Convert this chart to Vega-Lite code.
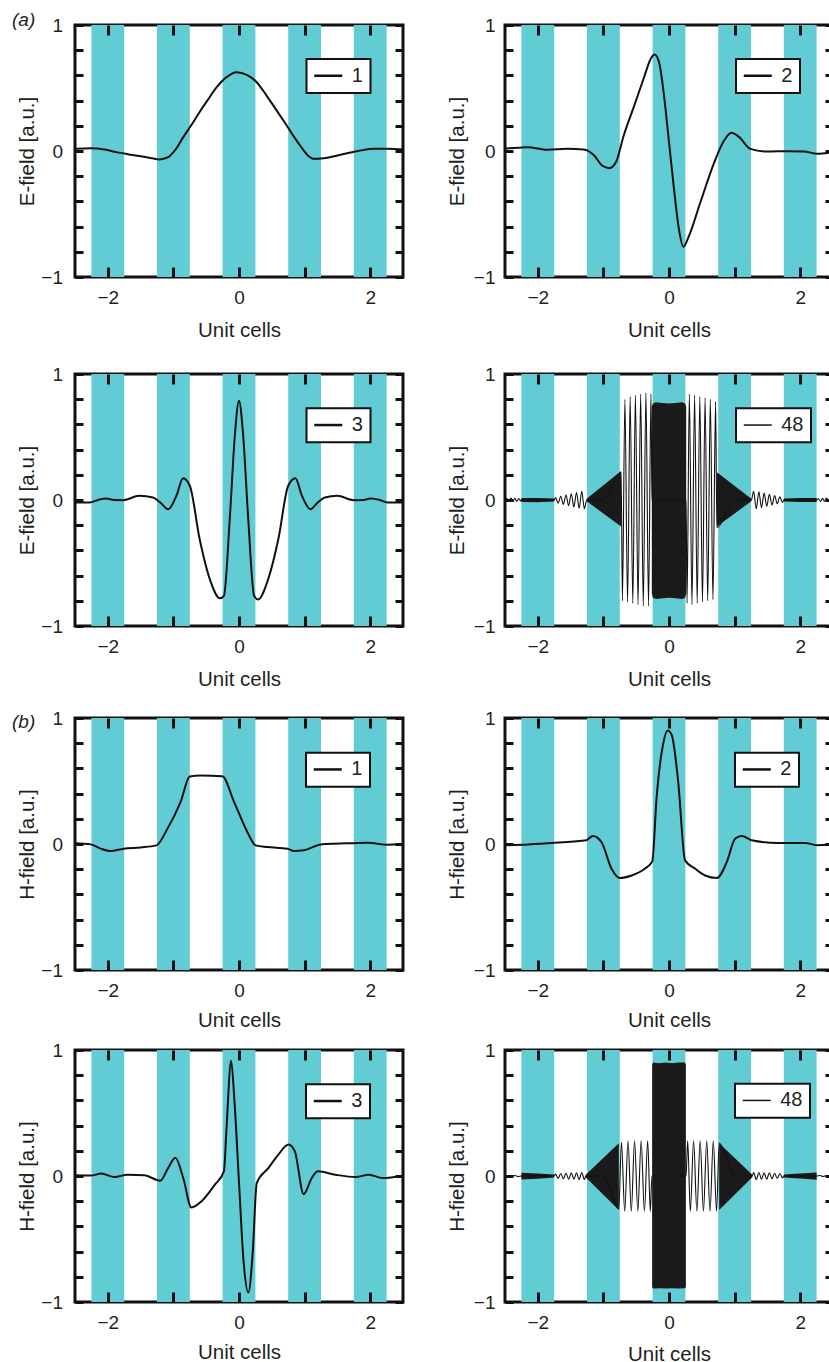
{
  "$schema": "https://vega.github.io/schema/vega-lite/v6.json",
  "autosize": {"type": "pad"},
  "padding": {"left": 10, "top": 9, "right": 0, "bottom": 0},
  "background": "white",
  "datasets": {
    "stripes": [
      {"a": -2.25, "b": -1.75, "y0": -1, "y1": 1}, {"a": -1.25, "b": -0.75, "y0": -1, "y1": 1}, {"a": -0.25, "b": 0.25, "y0": -1, "y1": 1}, {"a": 0.75, "b": 1.25, "y0": -1, "y1": 1}, {"a": 1.75, "b": 2.25, "y0": -1, "y1": 1}
    ],
    "curves": [
      {"p":"E1","x":-2.5,"y":0.017},{"p":"E1","x":-2.26,"y":0.022},{"p":"E1","x":-2.05,"y":0.012},{"p":"E1","x":-1.87,"y":-0.009},{"p":"E1","x":-1.7,"y":-0.025},{"p":"E1","x":-1.52,"y":-0.04},{"p":"E1","x":-1.35,"y":-0.055},{"p":"E1","x":-1.21,"y":-0.067},{"p":"E1","x":-1.08,"y":-0.049},{"p":"E1","x":-0.97,"y":0.01},{"p":"E1","x":-0.85,"y":0.11},{"p":"E1","x":-0.72,"y":0.21},{"p":"E1","x":-0.6,"y":0.31},{"p":"E1","x":-0.47,"y":0.41},{"p":"E1","x":-0.34,"y":0.506},{"p":"E1","x":-0.19,"y":0.586},{"p":"E1","x":-0.04,"y":0.625},{"p":"E1","x":0.12,"y":0.604},{"p":"E1","x":0.27,"y":0.546},{"p":"E1","x":0.42,"y":0.44},{"p":"E1","x":0.55,"y":0.34},{"p":"E1","x":0.68,"y":0.24},{"p":"E1","x":0.81,"y":0.135},{"p":"E1","x":0.93,"y":0.044},{"p":"E1","x":1.05,"y":-0.035},{"p":"E1","x":1.14,"y":-0.062},{"p":"E1","x":1.29,"y":-0.057},{"p":"E1","x":1.55,"y":-0.03},{"p":"E1","x":1.85,"y":0.004},{"p":"E1","x":2.06,"y":0.017},{"p":"E1","x":2.26,"y":0.017},{"p":"E1","x":2.5,"y":0.012},

      {"p":"E2","x":-2.5,"y":0.02},{"p":"E2","x":-2.3,"y":0.025},{"p":"E2","x":-2.16,"y":0.03},{"p":"E2","x":-1.85,"y":0.01},{"p":"E2","x":-1.55,"y":0.017},{"p":"E2","x":-1.3,"y":0.012},{"p":"E2","x":-1.14,"y":-0.036},{"p":"E2","x":-1.02,"y":-0.115},{"p":"E2","x":-0.91,"y":-0.136},{"p":"E2","x":-0.81,"y":-0.09},{"p":"E2","x":-0.69,"y":0.123},{"p":"E2","x":-0.53,"y":0.36},{"p":"E2","x":-0.38,"y":0.585},{"p":"E2","x":-0.28,"y":0.73},{"p":"E2","x":-0.22,"y":0.765},{"p":"E2","x":-0.15,"y":0.7},{"p":"E2","x":-0.076,"y":0.44},{"p":"E2","x":0,"y":0.07},{"p":"E2","x":0.076,"y":-0.3},{"p":"E2","x":0.15,"y":-0.617},{"p":"E2","x":0.22,"y":-0.76},{"p":"E2","x":0.3,"y":-0.68},{"p":"E2","x":0.48,"y":-0.405},{"p":"E2","x":0.69,"y":-0.09},{"p":"E2","x":0.84,"y":0.083},{"p":"E2","x":0.95,"y":0.144},{"p":"E2","x":1.07,"y":0.11},{"p":"E2","x":1.24,"y":0.017},{"p":"E2","x":1.5,"y":-0.004},{"p":"E2","x":1.8,"y":-0.001},{"p":"E2","x":2.06,"y":-0.004},{"p":"E2","x":2.26,"y":-0.022},{"p":"E2","x":2.5,"y":-0.01},

      {"p":"E3","x":-2.5,"y":-0.02},{"p":"E3","x":-2.28,"y":-0.02},{"p":"E3","x":-2.15,"y":0.0},{"p":"E3","x":-2.03,"y":0.012},{"p":"E3","x":-1.9,"y":0.0},{"p":"E3","x":-1.77,"y":-0.001},{"p":"E3","x":-1.52,"y":0.033},{"p":"E3","x":-1.31,"y":0.02},{"p":"E3","x":-1.2,"y":-0.02},{"p":"E3","x":-1.08,"y":-0.073},{"p":"E3","x":-0.955,"y":0.033},{"p":"E3","x":-0.853,"y":0.173},{"p":"E3","x":-0.75,"y":0.113},{"p":"E3","x":-0.6,"y":-0.31},{"p":"E3","x":-0.444,"y":-0.63},{"p":"E3","x":-0.29,"y":-0.78},{"p":"E3","x":-0.23,"y":-0.76},{"p":"E3","x":-0.138,"y":-0.126},{"p":"E3","x":-0.06,"y":0.536},{"p":"E3","x":0,"y":0.788},{"p":"E3","x":0.06,"y":0.536},{"p":"E3","x":0.138,"y":-0.126},{"p":"E3","x":0.23,"y":-0.76},{"p":"E3","x":0.29,"y":-0.79},{"p":"E3","x":0.444,"y":-0.63},{"p":"E3","x":0.6,"y":-0.31},{"p":"E3","x":0.75,"y":0.113},{"p":"E3","x":0.86,"y":0.173},{"p":"E3","x":0.96,"y":0.033},{"p":"E3","x":1.09,"y":-0.073},{"p":"E3","x":1.2,"y":-0.02},{"p":"E3","x":1.31,"y":0.02},{"p":"E3","x":1.5,"y":0.033},{"p":"E3","x":1.75,"y":-0.001},{"p":"E3","x":1.9,"y":0.0},{"p":"E3","x":2.0,"y":0.012},{"p":"E3","x":2.15,"y":0.0},{"p":"E3","x":2.26,"y":-0.02},{"p":"E3","x":2.5,"y":-0.02},

      {"p":"H1","x":-2.5,"y":0.005},{"p":"H1","x":-2.26,"y":-0.003},{"p":"H1","x":-2.11,"y":-0.037},{"p":"H1","x":-1.96,"y":-0.056},{"p":"H1","x":-1.76,"y":-0.037},{"p":"H1","x":-1.5,"y":-0.027},{"p":"H1","x":-1.26,"y":-0.011},{"p":"H1","x":-1.09,"y":0.122},{"p":"H1","x":-0.89,"y":0.335},{"p":"H1","x":-0.75,"y":0.535},{"p":"H1","x":-0.585,"y":0.543},{"p":"H1","x":-0.254,"y":0.537},{"p":"H1","x":-0.076,"y":0.335},{"p":"H1","x":0.127,"y":0.096},{"p":"H1","x":0.254,"y":-0.011},{"p":"H1","x":0.43,"y":-0.024},{"p":"H1","x":0.74,"y":-0.037},{"p":"H1","x":0.84,"y":-0.056},{"p":"H1","x":0.99,"y":-0.05},{"p":"H1","x":1.25,"y":-0.003},{"p":"H1","x":1.65,"y":0.005},{"p":"H1","x":1.96,"y":0.01},{"p":"H1","x":2.26,"y":-0.005},{"p":"H1","x":2.5,"y":0.0},

      {"p":"H2","x":-2.5,"y":-0.01},{"p":"H2","x":-2.15,"y":-0.003},{"p":"H2","x":-1.74,"y":0.01},{"p":"H2","x":-1.26,"y":0.03},{"p":"H2","x":-1.16,"y":0.064},{"p":"H2","x":-1.03,"y":0.016},{"p":"H2","x":-0.876,"y":-0.197},{"p":"H2","x":-0.75,"y":-0.27},{"p":"H2","x":-0.57,"y":-0.25},{"p":"H2","x":-0.37,"y":-0.197},{"p":"H2","x":-0.255,"y":-0.138},{"p":"H2","x":-0.19,"y":0.36},{"p":"H2","x":-0.087,"y":0.8},{"p":"H2","x":-0.02,"y":0.9},{"p":"H2","x":0.04,"y":0.867},{"p":"H2","x":0.14,"y":0.495},{"p":"H2","x":0.245,"y":-0.13},{"p":"H2","x":0.4,"y":-0.197},{"p":"H2","x":0.55,"y":-0.25},{"p":"H2","x":0.73,"y":-0.27},{"p":"H2","x":0.88,"y":-0.144},{"p":"H2","x":1.01,"y":0.043},{"p":"H2","x":1.11,"y":0.064},{"p":"H2","x":1.26,"y":0.03},{"p":"H2","x":1.67,"y":0.008},{"p":"H2","x":2.08,"y":0.008},{"p":"H2","x":2.26,"y":-0.01},{"p":"H2","x":2.5,"y":-0.005},

      {"p":"H3","x":-2.5,"y":0.005},{"p":"H3","x":-2.26,"y":0.003},{"p":"H3","x":-2.1,"y":0.019},{"p":"H3","x":-1.9,"y":-0.008},{"p":"H3","x":-1.7,"y":0.01},{"p":"H3","x":-1.44,"y":0.005},{"p":"H3","x":-1.2,"y":-0.037},{"p":"H3","x":-1.08,"y":0.064},{"p":"H3","x":-0.97,"y":0.144},{"p":"H3","x":-0.85,"y":-0.016},{"p":"H3","x":-0.725,"y":-0.25},{"p":"H3","x":-0.57,"y":-0.2},{"p":"H3","x":-0.37,"y":-0.07},{"p":"H3","x":-0.23,"y":0.037},{"p":"H3","x":-0.19,"y":0.38},{"p":"H3","x":-0.12,"y":0.915},{"p":"H3","x":-0.07,"y":0.6},{"p":"H3","x":0.0,"y":-0.05},{"p":"H3","x":0.07,"y":-0.68},{"p":"H3","x":0.143,"y":-0.925},{"p":"H3","x":0.21,"y":-0.6},{"p":"H3","x":0.27,"y":-0.056},{"p":"H3","x":0.45,"y":0.064},{"p":"H3","x":0.6,"y":0.17},{"p":"H3","x":0.756,"y":0.25},{"p":"H3","x":0.85,"y":0.197},{"p":"H3","x":0.986,"y":-0.144},{"p":"H3","x":1.11,"y":-0.016},{"p":"H3","x":1.2,"y":0.037},{"p":"H3","x":1.47,"y":0.01},{"p":"H3","x":1.78,"y":-0.008},{"p":"H3","x":1.98,"y":0.01},{"p":"H3","x":2.19,"y":-0.016},{"p":"H3","x":2.5,"y":0.003},

      {"p":"E48","x":-2.5,"y":0},{"p":"E48","x":-2.47,"y":0.012},{"p":"E48","x":-2.44,"y":-0.01},{"p":"E48","x":-2.41,"y":0.015},{"p":"E48","x":-2.38,"y":-0.012},{"p":"E48","x":-2.35,"y":0.014},{"p":"E48","x":-2.32,"y":-0.01},{"p":"E48","x":-2.29,"y":0.012},{"p":"E48","x":-2.26,"y":-0.008},{"p":"E48","x":-2.25,"y":0},{"p":"E48","x":-2.0,"y":0},
      {"p":"E48","x":-1.75,"y":0},{"p":"E48","x":-1.73,"y":0.02},{"p":"E48","x":-1.69,"y":-0.025},{"p":"E48","x":-1.65,"y":0.03},{"p":"E48","x":-1.61,"y":-0.035},{"p":"E48","x":-1.57,"y":0.04},{"p":"E48","x":-1.53,"y":-0.045},{"p":"E48","x":-1.49,"y":0.05},{"p":"E48","x":-1.45,"y":-0.055},{"p":"E48","x":-1.41,"y":0.06},{"p":"E48","x":-1.37,"y":-0.065},{"p":"E48","x":-1.33,"y":0.07},{"p":"E48","x":-1.29,"y":-0.07},{"p":"E48","x":-1.255,"y":0},{"p":"E48","x":-1.0,"y":0},
      {"p":"E48","x":-0.73,"y":0.22},{"p":"E48","x":-0.71,"y":-0.8},{"p":"E48","x":-0.672,"y":0.8},{"p":"E48","x":-0.632,"y":-0.81},{"p":"E48","x":-0.592,"y":0.82},{"p":"E48","x":-0.552,"y":-0.82},{"p":"E48","x":-0.512,"y":0.83},{"p":"E48","x":-0.472,"y":-0.83},{"p":"E48","x":-0.432,"y":0.84},{"p":"E48","x":-0.392,"y":-0.84},{"p":"E48","x":-0.352,"y":0.85},{"p":"E48","x":-0.312,"y":-0.84},{"p":"E48","x":-0.275,"y":0.84},{"p":"E48","x":-0.26,"y":0},{"p":"E48","x":0,"y":0},
      {"p":"E48","x":0.26,"y":0},{"p":"E48","x":0.275,"y":-0.82},{"p":"E48","x":0.31,"y":0.84},{"p":"E48","x":0.35,"y":-0.83},{"p":"E48","x":0.39,"y":0.83},{"p":"E48","x":0.43,"y":-0.82},{"p":"E48","x":0.47,"y":0.82},{"p":"E48","x":0.51,"y":-0.81},{"p":"E48","x":0.55,"y":0.81},{"p":"E48","x":0.59,"y":-0.8},{"p":"E48","x":0.63,"y":0.8},{"p":"E48","x":0.67,"y":-0.79},{"p":"E48","x":0.71,"y":0.78},{"p":"E48","x":0.73,"y":-0.22},{"p":"E48","x":1.0,"y":0},
      {"p":"E48","x":1.255,"y":0},{"p":"E48","x":1.29,"y":0.07},{"p":"E48","x":1.33,"y":-0.07},{"p":"E48","x":1.37,"y":0.065},{"p":"E48","x":1.41,"y":-0.06},{"p":"E48","x":1.45,"y":0.055},{"p":"E48","x":1.49,"y":-0.05},{"p":"E48","x":1.53,"y":0.045},{"p":"E48","x":1.57,"y":-0.04},{"p":"E48","x":1.61,"y":0.035},{"p":"E48","x":1.65,"y":-0.03},{"p":"E48","x":1.69,"y":0.025},{"p":"E48","x":1.73,"y":-0.02},{"p":"E48","x":1.75,"y":0},{"p":"E48","x":2.0,"y":0},
      {"p":"E48","x":2.25,"y":0},{"p":"E48","x":2.28,"y":0.01},{"p":"E48","x":2.31,"y":-0.012},{"p":"E48","x":2.34,"y":0.014},{"p":"E48","x":2.37,"y":-0.01},{"p":"E48","x":2.4,"y":0.015},{"p":"E48","x":2.43,"y":-0.012},{"p":"E48","x":2.46,"y":0.01},{"p":"E48","x":2.5,"y":0},

      {"p":"H48","x":-2.5,"y":0},{"p":"H48","x":-2.45,"y":0.004},{"p":"H48","x":-2.4,"y":-0.004},{"p":"H48","x":-2.35,"y":0.004},{"p":"H48","x":-2.3,"y":-0.004},{"p":"H48","x":-2.25,"y":0},{"p":"H48","x":-2.0,"y":0},
      {"p":"H48","x":-1.75,"y":0},{"p":"H48","x":-1.73,"y":0.015},{"p":"H48","x":-1.69,"y":-0.02},{"p":"H48","x":-1.65,"y":0.02},{"p":"H48","x":-1.61,"y":-0.022},{"p":"H48","x":-1.57,"y":0.022},{"p":"H48","x":-1.53,"y":-0.025},{"p":"H48","x":-1.49,"y":0.025},{"p":"H48","x":-1.45,"y":-0.025},{"p":"H48","x":-1.41,"y":0.025},{"p":"H48","x":-1.37,"y":-0.028},{"p":"H48","x":-1.33,"y":0.028},{"p":"H48","x":-1.29,"y":-0.028},{"p":"H48","x":-1.27,"y":0},{"p":"H48","x":-1.0,"y":0},
      {"p":"H48","x":-0.765,"y":-0.26},{"p":"H48","x":-0.725,"y":0.27},{"p":"H48","x":-0.675,"y":-0.28},{"p":"H48","x":-0.625,"y":0.28},{"p":"H48","x":-0.575,"y":-0.28},{"p":"H48","x":-0.525,"y":0.28},{"p":"H48","x":-0.475,"y":-0.28},{"p":"H48","x":-0.425,"y":0.28},{"p":"H48","x":-0.375,"y":-0.28},{"p":"H48","x":-0.325,"y":0.28},{"p":"H48","x":-0.285,"y":-0.28},{"p":"H48","x":-0.26,"y":0},{"p":"H48","x":0,"y":0},
      {"p":"H48","x":0.26,"y":0},{"p":"H48","x":0.285,"y":0.28},{"p":"H48","x":0.325,"y":-0.28},{"p":"H48","x":0.375,"y":0.28},{"p":"H48","x":0.425,"y":-0.28},{"p":"H48","x":0.475,"y":0.28},{"p":"H48","x":0.525,"y":-0.28},{"p":"H48","x":0.575,"y":0.28},{"p":"H48","x":0.625,"y":-0.28},{"p":"H48","x":0.675,"y":0.28},{"p":"H48","x":0.725,"y":-0.28},{"p":"H48","x":0.765,"y":0.26},{"p":"H48","x":1.0,"y":0},
      {"p":"H48","x":1.27,"y":0},{"p":"H48","x":1.29,"y":0.028},{"p":"H48","x":1.33,"y":-0.028},{"p":"H48","x":1.37,"y":0.028},{"p":"H48","x":1.41,"y":-0.025},{"p":"H48","x":1.45,"y":0.025},{"p":"H48","x":1.49,"y":-0.025},{"p":"H48","x":1.53,"y":0.025},{"p":"H48","x":1.57,"y":-0.022},{"p":"H48","x":1.61,"y":0.022},{"p":"H48","x":1.65,"y":-0.02},{"p":"H48","x":1.69,"y":0.02},{"p":"H48","x":1.73,"y":-0.015},{"p":"H48","x":1.75,"y":0},{"p":"H48","x":2.0,"y":0},
      {"p":"H48","x":2.25,"y":0},{"p":"H48","x":2.3,"y":0.004},{"p":"H48","x":2.35,"y":-0.004},{"p":"H48","x":2.4,"y":0.004},{"p":"H48","x":2.45,"y":-0.004},{"p":"H48","x":2.5,"y":0}
    ],
    "env": [
      {"p":"E48","s":"b1","x":-2.25,"lo":-0.015,"hi":0.015},{"p":"E48","s":"b1","x":-2.0,"lo":-0.018,"hi":0.015},{"p":"E48","s":"b1","x":-1.75,"lo":-0.012,"hi":0.012},
      {"p":"E48","s":"t1","x":-1.255,"lo":-0.01,"hi":0.01},{"p":"E48","s":"t1","x":-0.73,"lo":-0.21,"hi":0.23},
      {"p":"E48","s":"k","x":-0.262,"lo":-0.74,"hi":0.74},{"p":"E48","s":"k","x":-0.245,"lo":-0.775,"hi":0.765},{"p":"E48","s":"k","x":-0.2,"lo":-0.785,"hi":0.775},{"p":"E48","s":"k","x":-0.1,"lo":-0.78,"hi":0.77},{"p":"E48","s":"k","x":0,"lo":-0.775,"hi":0.765},{"p":"E48","s":"k","x":0.1,"lo":-0.78,"hi":0.77},{"p":"E48","s":"k","x":0.2,"lo":-0.785,"hi":0.775},{"p":"E48","s":"k","x":0.245,"lo":-0.775,"hi":0.765},{"p":"E48","s":"k","x":0.262,"lo":-0.74,"hi":0.74},
      {"p":"E48","s":"t2","x":0.73,"lo":-0.21,"hi":0.22},{"p":"E48","s":"t2","x":1.255,"lo":-0.01,"hi":0.01},
      {"p":"E48","s":"b2","x":1.75,"lo":-0.012,"hi":0.012},{"p":"E48","s":"b2","x":2.0,"lo":-0.015,"hi":0.015},{"p":"E48","s":"b2","x":2.25,"lo":-0.015,"hi":0.015},

      {"p":"H48","s":"b1","x":-2.25,"lo":-0.028,"hi":0.025},{"p":"H48","s":"b1","x":-2.0,"lo":-0.022,"hi":0.02},{"p":"H48","s":"b1","x":-1.75,"lo":-0.012,"hi":0.012},
      {"p":"H48","s":"t1","x":-1.27,"lo":-0.01,"hi":0.01},{"p":"H48","s":"t1","x":-0.765,"lo":-0.27,"hi":0.26},
      {"p":"H48","s":"k","x":-0.257,"lo":-0.88,"hi":0.88},{"p":"H48","s":"k","x":-0.245,"lo":-0.893,"hi":0.9},{"p":"H48","s":"k","x":-0.15,"lo":-0.89,"hi":0.895},{"p":"H48","s":"k","x":-0.05,"lo":-0.893,"hi":0.9},{"p":"H48","s":"k","x":0.05,"lo":-0.89,"hi":0.895},{"p":"H48","s":"k","x":0.15,"lo":-0.893,"hi":0.9},{"p":"H48","s":"k","x":0.245,"lo":-0.89,"hi":0.9},{"p":"H48","s":"k","x":0.257,"lo":-0.88,"hi":0.88},
      {"p":"H48","s":"t2","x":0.765,"lo":-0.27,"hi":0.26},{"p":"H48","s":"t2","x":1.27,"lo":-0.01,"hi":0.01},
      {"p":"H48","s":"b2","x":1.75,"lo":-0.012,"hi":0.012},{"p":"H48","s":"b2","x":2.0,"lo":-0.02,"hi":0.02},{"p":"H48","s":"b2","x":2.25,"lo":-0.03,"hi":0.028}
    ]
  },
  "columns": 2,
  "spacing": {"row": 0, "column": 102},
  "bounds": "flush",
  "resolve": {"scale": {"color": "independent"}, "legend": {"color": "independent"}},
  "concat": [
    {
      "width": 328, "height": 252,
      "title": {"text": "(a)", "anchor": "start", "frame": "group", "orient": "top", "offset": 0, "dx": -63, "dy": 29, "baseline": "alphabetic", "fontSize": 19, "fontStyle": "italic", "fontWeight": "normal", "color": "#231f20"},
      "layer": [
        {"data": {"name": "stripes"}, "mark": {"type": "rect", "color": "#62ccd4"},
         "encoding": {
           "x": {"field": "a", "type": "quantitative", "scale": {"domain": [-2.5, 2.5], "nice": false, "zero": false}, "axis": {"orient": "top", "zindex": 1, "values": [-2, -1, 0, 1, 2], "labels": false, "tickSize": -10, "title": null}},
           "x2": {"field": "b"},
           "y": {"field": "y0", "type": "quantitative", "scale": {"domain": [-1, 1], "nice": false, "zero": false}, "axis": {"orient": "right", "zindex": 1, "values": [-1, -0.8, -0.6, -0.4, -0.2, 0, 0.2, 0.4, 0.6, 0.8, 1], "tickMinStep": 0.1, "tickCount": 30, "labels": false, "tickSize": -8, "title": null}},
           "y2": {"field": "y1"}}},
        {"data": {"name": "curves"}, "transform": [{"filter": "datum.p == 'E1'"}],
         "mark": {"type": "line", "interpolate": "monotone", "strokeWidth": 2, "clip": true},
         "encoding": {
           "x": {"field": "x", "type": "quantitative", "axis": {"orient": "bottom", "zindex": 1, "values": [-2, -1, 0, 1, 2], "format": "d", "labelExpr": "datum.value % 2 == 0 ? datum.label : ''", "tickSize": -10, "labelPadding": 21, "title": "Unit cells", "titleY": 59, "titleBaseline": "alphabetic"}},
           "y": {"field": "y", "type": "quantitative", "axis": {"orient": "left", "zindex": 1, "values": [-1, -0.8, -0.6, -0.4, -0.2, 0, 0.2, 0.4, 0.6, 0.8, 1], "tickMinStep": 0.1, "tickCount": 30, "labelExpr": "datum.value > 0.99 ? '1' : datum.value < -0.99 ? '\u22121' : abs(datum.value) < 0.01 ? '0' : ''", "labelOverlap": false, "tickSize": -8, "labelPadding": 20.5, "title": "E-field [a.u.]", "titleX": -42, "titleY": 126, "titleBaseline": "alphabetic", "titleAngle": -90}},
           "color": {"datum": "1", "type": "nominal", "scale": {"range": ["#111111"]},
                     "legend": {"orient": "none", "legendX": 231.5, "legendY": 34, "title": null, "symbolType": "M-2,0H2", "symbolSize": 196, "symbolStrokeWidth": 2.5, "symbolOffset": 5, "labelFontSize": 20, "labelOffset": 13.5, "labelColor": "#231f20", "padding": 6.75, "strokeColor": "#111111", "fillColor": "white"}}}}
      ]
    },
    {
      "width": 328, "height": 252,
      "layer": [
        {"data": {"name": "stripes"}, "mark": {"type": "rect", "color": "#62ccd4"},
         "encoding": {
           "x": {"field": "a", "type": "quantitative", "scale": {"domain": [-2.5, 2.5], "nice": false, "zero": false}, "axis": {"orient": "top", "zindex": 1, "values": [-2, -1, 0, 1, 2], "labels": false, "tickSize": -10, "title": null}},
           "x2": {"field": "b"},
           "y": {"field": "y0", "type": "quantitative", "scale": {"domain": [-1, 1], "nice": false, "zero": false}, "axis": {"orient": "right", "zindex": 1, "values": [-1, -0.8, -0.6, -0.4, -0.2, 0, 0.2, 0.4, 0.6, 0.8, 1], "tickMinStep": 0.1, "tickCount": 30, "labels": false, "tickSize": -8, "title": null}},
           "y2": {"field": "y1"}}},
        {"data": {"name": "curves"}, "transform": [{"filter": "datum.p == 'E2'"}],
         "mark": {"type": "line", "interpolate": "monotone", "strokeWidth": 2, "clip": true},
         "encoding": {
           "x": {"field": "x", "type": "quantitative", "axis": {"orient": "bottom", "zindex": 1, "values": [-2, -1, 0, 1, 2], "format": "d", "labelExpr": "datum.value % 2 == 0 ? datum.label : ''", "tickSize": -10, "labelPadding": 21, "title": "Unit cells", "titleY": 59, "titleBaseline": "alphabetic"}},
           "y": {"field": "y", "type": "quantitative", "axis": {"orient": "left", "zindex": 1, "values": [-1, -0.8, -0.6, -0.4, -0.2, 0, 0.2, 0.4, 0.6, 0.8, 1], "tickMinStep": 0.1, "tickCount": 30, "labelExpr": "datum.value > 0.99 ? '1' : datum.value < -0.99 ? '\u22121' : abs(datum.value) < 0.01 ? '0' : ''", "labelOverlap": false, "tickSize": -8, "labelPadding": 18, "title": "E-field [a.u.]", "titleX": -42, "titleY": 126, "titleBaseline": "alphabetic", "titleAngle": -90}},
           "color": {"datum": "2", "type": "nominal", "scale": {"range": ["#111111"]},
                     "legend": {"orient": "none", "legendX": 231, "legendY": 34, "title": null, "symbolType": "M-2,0H2", "symbolSize": 196, "symbolStrokeWidth": 2.5, "symbolOffset": 5, "labelFontSize": 20, "labelOffset": 13.5, "labelColor": "#231f20", "padding": 6.75, "strokeColor": "#111111", "fillColor": "white"}}}}
      ]
    },
    {"width": 328, "height": 97, "data": {"values": []}, "mark": "point", "view": {"stroke": null}},
    {"width": 328, "height": 97, "data": {"values": []}, "mark": "point", "view": {"stroke": null}},
    {
      "width": 328, "height": 252,
      "layer": [
        {"data": {"name": "stripes"}, "mark": {"type": "rect", "color": "#62ccd4"},
         "encoding": {
           "x": {"field": "a", "type": "quantitative", "scale": {"domain": [-2.5, 2.5], "nice": false, "zero": false}, "axis": {"orient": "top", "zindex": 1, "values": [-2, -1, 0, 1, 2], "labels": false, "tickSize": -10, "title": null}},
           "x2": {"field": "b"},
           "y": {"field": "y0", "type": "quantitative", "scale": {"domain": [-1, 1], "nice": false, "zero": false}, "axis": {"orient": "right", "zindex": 1, "values": [-1, -0.8, -0.6, -0.4, -0.2, 0, 0.2, 0.4, 0.6, 0.8, 1], "tickMinStep": 0.1, "tickCount": 30, "labels": false, "tickSize": -8, "title": null}},
           "y2": {"field": "y1"}}},
        {"data": {"name": "curves"}, "transform": [{"filter": "datum.p == 'E3'"}],
         "mark": {"type": "line", "interpolate": "monotone", "strokeWidth": 2, "clip": true},
         "encoding": {
           "x": {"field": "x", "type": "quantitative", "axis": {"orient": "bottom", "zindex": 1, "values": [-2, -1, 0, 1, 2], "format": "d", "labelExpr": "datum.value % 2 == 0 ? datum.label : ''", "tickSize": -10, "labelPadding": 21, "title": "Unit cells", "titleY": 59, "titleBaseline": "alphabetic"}},
           "y": {"field": "y", "type": "quantitative", "axis": {"orient": "left", "zindex": 1, "values": [-1, -0.8, -0.6, -0.4, -0.2, 0, 0.2, 0.4, 0.6, 0.8, 1], "tickMinStep": 0.1, "tickCount": 30, "labelExpr": "datum.value > 0.99 ? '1' : datum.value < -0.99 ? '\u22121' : abs(datum.value) < 0.01 ? '0' : ''", "labelOverlap": false, "tickSize": -8, "labelPadding": 20.5, "title": "E-field [a.u.]", "titleX": -42, "titleY": 126, "titleBaseline": "alphabetic", "titleAngle": -90}},
           "color": {"datum": "3", "type": "nominal", "scale": {"range": ["#111111"]},
                     "legend": {"orient": "none", "legendX": 231.5, "legendY": 34.3, "title": null, "symbolType": "M-2,0H2", "symbolSize": 196, "symbolStrokeWidth": 2.5, "symbolOffset": 5, "labelFontSize": 20, "labelOffset": 13.5, "labelColor": "#231f20", "padding": 6.75, "strokeColor": "#111111", "fillColor": "white"}}}}
      ]
    },
    {
      "width": 328, "height": 252,
      "layer": [
        {"data": {"name": "stripes"}, "mark": {"type": "rect", "color": "#62ccd4"},
         "encoding": {
           "x": {"field": "a", "type": "quantitative", "scale": {"domain": [-2.5, 2.5], "nice": false, "zero": false}, "axis": {"orient": "top", "zindex": 1, "values": [-2, -1, 0, 1, 2], "labels": false, "tickSize": -10, "title": null}},
           "x2": {"field": "b"},
           "y": {"field": "y0", "type": "quantitative", "scale": {"domain": [-1, 1], "nice": false, "zero": false}, "axis": {"orient": "right", "zindex": 1, "values": [-1, -0.8, -0.6, -0.4, -0.2, 0, 0.2, 0.4, 0.6, 0.8, 1], "tickMinStep": 0.1, "tickCount": 30, "labels": false, "tickSize": -8, "title": null}},
           "y2": {"field": "y1"}}},
        {"data": {"name": "env"}, "transform": [{"filter": "datum.p == 'E48'"}],
         "mark": {"type": "area", "color": "#1a1a1a", "clip": true},
         "encoding": {
           "x": {"field": "x", "type": "quantitative", "axis": null},
           "y": {"field": "lo", "type": "quantitative", "axis": null},
           "y2": {"field": "hi"},
           "detail": {"field": "s"}}},
        {"data": {"name": "curves"}, "transform": [{"filter": "datum.p == 'E48'"}],
         "mark": {"type": "line", "interpolate": "monotone", "strokeWidth": 1.1, "clip": true},
         "encoding": {
           "x": {"field": "x", "type": "quantitative", "axis": {"orient": "bottom", "zindex": 1, "values": [-2, -1, 0, 1, 2], "format": "d", "labelExpr": "datum.value % 2 == 0 ? datum.label : ''", "tickSize": -10, "labelPadding": 21, "title": "Unit cells", "titleY": 59, "titleBaseline": "alphabetic"}},
           "y": {"field": "y", "type": "quantitative", "axis": {"orient": "left", "zindex": 1, "values": [-1, -0.8, -0.6, -0.4, -0.2, 0, 0.2, 0.4, 0.6, 0.8, 1], "tickMinStep": 0.1, "tickCount": 30, "labelExpr": "datum.value > 0.99 ? '1' : datum.value < -0.99 ? '\u22121' : abs(datum.value) < 0.01 ? '0' : ''", "labelOverlap": false, "tickSize": -8, "labelPadding": 18, "title": "E-field [a.u.]", "titleX": -42, "titleY": 126, "titleBaseline": "alphabetic", "titleAngle": -90}},
           "color": {"datum": "48", "type": "nominal", "scale": {"range": ["#111111"]},
                     "legend": {"orient": "none", "legendX": 231, "legendY": 34.3, "title": null, "symbolType": "M-2,0H2", "symbolSize": 196, "symbolStrokeWidth": 1.5, "symbolOffset": 5, "labelFontSize": 20, "labelOffset": 13.5, "labelColor": "#231f20", "padding": 6.75, "strokeColor": "#111111", "fillColor": "white"}}}}
      ]
    },
    {"width": 328, "height": 92, "data": {"values": []}, "mark": "point", "view": {"stroke": null}},
    {"width": 328, "height": 92, "data": {"values": []}, "mark": "point", "view": {"stroke": null}},
    {
      "width": 328, "height": 252,
      "title": {"text": "(b)", "anchor": "start", "frame": "group", "orient": "top", "offset": 0, "dx": -63, "dy": 37.6, "baseline": "alphabetic", "fontSize": 19, "fontStyle": "italic", "fontWeight": "normal", "color": "#231f20"},
      "layer": [
        {"data": {"name": "stripes"}, "mark": {"type": "rect", "color": "#62ccd4"},
         "encoding": {
           "x": {"field": "a", "type": "quantitative", "scale": {"domain": [-2.5, 2.5], "nice": false, "zero": false}, "axis": {"orient": "top", "zindex": 1, "values": [-2, -1, 0, 1, 2], "labels": false, "tickSize": -10, "title": null}},
           "x2": {"field": "b"},
           "y": {"field": "y0", "type": "quantitative", "scale": {"domain": [-1, 1], "nice": false, "zero": false}, "axis": {"orient": "right", "zindex": 1, "values": [-1, -0.8, -0.6, -0.4, -0.2, 0, 0.2, 0.4, 0.6, 0.8, 1], "tickMinStep": 0.1, "tickCount": 30, "labels": false, "tickSize": -8, "title": null}},
           "y2": {"field": "y1"}}},
        {"data": {"name": "curves"}, "transform": [{"filter": "datum.p == 'H1'"}],
         "mark": {"type": "line", "interpolate": "monotone", "strokeWidth": 2, "clip": true},
         "encoding": {
           "x": {"field": "x", "type": "quantitative", "axis": {"orient": "bottom", "zindex": 1, "values": [-2, -1, 0, 1, 2], "format": "d", "labelExpr": "datum.value % 2 == 0 ? datum.label : ''", "tickSize": -10, "labelPadding": 21, "title": "Unit cells", "titleY": 56.5, "titleBaseline": "alphabetic"}},
           "y": {"field": "y", "type": "quantitative", "axis": {"orient": "left", "zindex": 1, "values": [-1, -0.8, -0.6, -0.4, -0.2, 0, 0.2, 0.4, 0.6, 0.8, 1], "tickMinStep": 0.1, "tickCount": 30, "labelExpr": "datum.value > 0.99 ? '1' : datum.value < -0.99 ? '\u22121' : abs(datum.value) < 0.01 ? '0' : ''", "labelOverlap": false, "tickSize": -8, "labelPadding": 20.5, "title": "H-field [a.u.]", "titleX": -42, "titleY": 126, "titleBaseline": "alphabetic", "titleAngle": -90}},
           "color": {"datum": "1", "type": "nominal", "scale": {"range": ["#111111"]},
                     "legend": {"orient": "none", "legendX": 231, "legendY": 34.7, "title": null, "symbolType": "M-2,0H2", "symbolSize": 196, "symbolStrokeWidth": 2.5, "symbolOffset": 5, "labelFontSize": 20, "labelOffset": 13.5, "labelColor": "#231f20", "padding": 6.75, "strokeColor": "#111111", "fillColor": "white"}}}}
      ]
    },
    {
      "width": 328, "height": 252,
      "layer": [
        {"data": {"name": "stripes"}, "mark": {"type": "rect", "color": "#62ccd4"},
         "encoding": {
           "x": {"field": "a", "type": "quantitative", "scale": {"domain": [-2.5, 2.5], "nice": false, "zero": false}, "axis": {"orient": "top", "zindex": 1, "values": [-2, -1, 0, 1, 2], "labels": false, "tickSize": -10, "title": null}},
           "x2": {"field": "b"},
           "y": {"field": "y0", "type": "quantitative", "scale": {"domain": [-1, 1], "nice": false, "zero": false}, "axis": {"orient": "right", "zindex": 1, "values": [-1, -0.8, -0.6, -0.4, -0.2, 0, 0.2, 0.4, 0.6, 0.8, 1], "tickMinStep": 0.1, "tickCount": 30, "labels": false, "tickSize": -8, "title": null}},
           "y2": {"field": "y1"}}},
        {"data": {"name": "curves"}, "transform": [{"filter": "datum.p == 'H2'"}],
         "mark": {"type": "line", "interpolate": "monotone", "strokeWidth": 2, "clip": true},
         "encoding": {
           "x": {"field": "x", "type": "quantitative", "axis": {"orient": "bottom", "zindex": 1, "values": [-2, -1, 0, 1, 2], "format": "d", "labelExpr": "datum.value % 2 == 0 ? datum.label : ''", "tickSize": -10, "labelPadding": 21, "title": "Unit cells", "titleY": 56.5, "titleBaseline": "alphabetic"}},
           "y": {"field": "y", "type": "quantitative", "axis": {"orient": "left", "zindex": 1, "values": [-1, -0.8, -0.6, -0.4, -0.2, 0, 0.2, 0.4, 0.6, 0.8, 1], "tickMinStep": 0.1, "tickCount": 30, "labelExpr": "datum.value > 0.99 ? '1' : datum.value < -0.99 ? '\u22121' : abs(datum.value) < 0.01 ? '0' : ''", "labelOverlap": false, "tickSize": -8, "labelPadding": 18, "title": "H-field [a.u.]", "titleX": -42, "titleY": 126, "titleBaseline": "alphabetic", "titleAngle": -90}},
           "color": {"datum": "2", "type": "nominal", "scale": {"range": ["#111111"]},
                     "legend": {"orient": "none", "legendX": 230, "legendY": 34.7, "title": null, "symbolType": "M-2,0H2", "symbolSize": 196, "symbolStrokeWidth": 2.5, "symbolOffset": 5, "labelFontSize": 20, "labelOffset": 13.5, "labelColor": "#231f20", "padding": 6.75, "strokeColor": "#111111", "fillColor": "white"}}}}
      ]
    },
    {"width": 328, "height": 80, "data": {"values": []}, "mark": "point", "view": {"stroke": null}},
    {"width": 328, "height": 80, "data": {"values": []}, "mark": "point", "view": {"stroke": null}},
    {
      "width": 328, "height": 252,
      "layer": [
        {"data": {"name": "stripes"}, "mark": {"type": "rect", "color": "#62ccd4"},
         "encoding": {
           "x": {"field": "a", "type": "quantitative", "scale": {"domain": [-2.5, 2.5], "nice": false, "zero": false}, "axis": {"orient": "top", "zindex": 1, "values": [-2, -1, 0, 1, 2], "labels": false, "tickSize": -10, "title": null}},
           "x2": {"field": "b"},
           "y": {"field": "y0", "type": "quantitative", "scale": {"domain": [-1, 1], "nice": false, "zero": false}, "axis": {"orient": "right", "zindex": 1, "values": [-1, -0.8, -0.6, -0.4, -0.2, 0, 0.2, 0.4, 0.6, 0.8, 1], "tickMinStep": 0.1, "tickCount": 30, "labels": false, "tickSize": -8, "title": null}},
           "y2": {"field": "y1"}}},
        {"data": {"name": "curves"}, "transform": [{"filter": "datum.p == 'H3'"}],
         "mark": {"type": "line", "interpolate": "monotone", "strokeWidth": 2, "clip": true},
         "encoding": {
           "x": {"field": "x", "type": "quantitative", "axis": {"orient": "bottom", "zindex": 1, "values": [-2, -1, 0, 1, 2], "format": "d", "labelExpr": "datum.value % 2 == 0 ? datum.label : ''", "tickSize": -10, "labelPadding": 21, "title": "Unit cells", "titleY": 56.5, "titleBaseline": "alphabetic"}},
           "y": {"field": "y", "type": "quantitative", "axis": {"orient": "left", "zindex": 1, "values": [-1, -0.8, -0.6, -0.4, -0.2, 0, 0.2, 0.4, 0.6, 0.8, 1], "tickMinStep": 0.1, "tickCount": 30, "labelExpr": "datum.value > 0.99 ? '1' : datum.value < -0.99 ? '\u22121' : abs(datum.value) < 0.01 ? '0' : ''", "labelOverlap": false, "tickSize": -8, "labelPadding": 20.5, "title": "H-field [a.u.]", "titleX": -42, "titleY": 126, "titleBaseline": "alphabetic", "titleAngle": -90}},
           "color": {"datum": "3", "type": "nominal", "scale": {"range": ["#111111"]},
                     "legend": {"orient": "none", "legendX": 231, "legendY": 34.3, "title": null, "symbolType": "M-2,0H2", "symbolSize": 196, "symbolStrokeWidth": 2.5, "symbolOffset": 5, "labelFontSize": 20, "labelOffset": 13.5, "labelColor": "#231f20", "padding": 6.75, "strokeColor": "#111111", "fillColor": "white"}}}}
      ]
    },
    {
      "width": 328, "height": 252,
      "layer": [
        {"data": {"name": "stripes"}, "mark": {"type": "rect", "color": "#62ccd4"},
         "encoding": {
           "x": {"field": "a", "type": "quantitative", "scale": {"domain": [-2.5, 2.5], "nice": false, "zero": false}, "axis": {"orient": "top", "zindex": 1, "values": [-2, -1, 0, 1, 2], "labels": false, "tickSize": -10, "title": null}},
           "x2": {"field": "b"},
           "y": {"field": "y0", "type": "quantitative", "scale": {"domain": [-1, 1], "nice": false, "zero": false}, "axis": {"orient": "right", "zindex": 1, "values": [-1, -0.8, -0.6, -0.4, -0.2, 0, 0.2, 0.4, 0.6, 0.8, 1], "tickMinStep": 0.1, "tickCount": 30, "labels": false, "tickSize": -8, "title": null}},
           "y2": {"field": "y1"}}},
        {"data": {"name": "env"}, "transform": [{"filter": "datum.p == 'H48'"}],
         "mark": {"type": "area", "color": "#1a1a1a", "clip": true},
         "encoding": {
           "x": {"field": "x", "type": "quantitative", "axis": null},
           "y": {"field": "lo", "type": "quantitative", "axis": null},
           "y2": {"field": "hi"},
           "detail": {"field": "s"}}},
        {"data": {"name": "curves"}, "transform": [{"filter": "datum.p == 'H48'"}],
         "mark": {"type": "line", "interpolate": "monotone", "strokeWidth": 1.1, "clip": true},
         "encoding": {
           "x": {"field": "x", "type": "quantitative", "axis": {"orient": "bottom", "zindex": 1, "values": [-2, -1, 0, 1, 2], "format": "d", "labelExpr": "datum.value % 2 == 0 ? datum.label : ''", "tickSize": -10, "labelPadding": 21, "title": "Unit cells", "titleY": 58, "titleBaseline": "alphabetic"}},
           "y": {"field": "y", "type": "quantitative", "axis": {"orient": "left", "zindex": 1, "values": [-1, -0.8, -0.6, -0.4, -0.2, 0, 0.2, 0.4, 0.6, 0.8, 1], "tickMinStep": 0.1, "tickCount": 30, "labelExpr": "datum.value > 0.99 ? '1' : datum.value < -0.99 ? '\u22121' : abs(datum.value) < 0.01 ? '0' : ''", "labelOverlap": false, "tickSize": -8, "labelPadding": 18, "title": "H-field [a.u.]", "titleX": -42, "titleY": 126, "titleBaseline": "alphabetic", "titleAngle": -90}},
           "color": {"datum": "48", "type": "nominal", "scale": {"range": ["#111111"]},
                     "legend": {"orient": "none", "legendX": 230, "legendY": 33.7, "title": null, "symbolType": "M-2,0H2", "symbolSize": 196, "symbolStrokeWidth": 1.5, "symbolOffset": 5, "labelFontSize": 20, "labelOffset": 13.5, "labelColor": "#231f20", "padding": 6.75, "strokeColor": "#111111", "fillColor": "white"}}}}
      ]
    }
  ],
  "config": {
    "font": "Liberation Sans",
    "view": {"stroke": "#111111", "strokeWidth": 3},
    "axis": {"tickWidth": 3, "tickColor": "#111111", "domain": false, "grid": false, "labelFontSize": 19, "labelColor": "#231f20", "labelFlush": false, "labelOverlap": false, "titleFontSize": 20.5, "titleFontWeight": "normal", "titleColor": "#231f20", "labelFont": "Liberation Sans", "titleFont": "Liberation Sans"},
    "legend": {"strokeWidth": 2, "labelFont": "Liberation Sans"},
    "title": {"font": "Liberation Sans"}
  }
}
